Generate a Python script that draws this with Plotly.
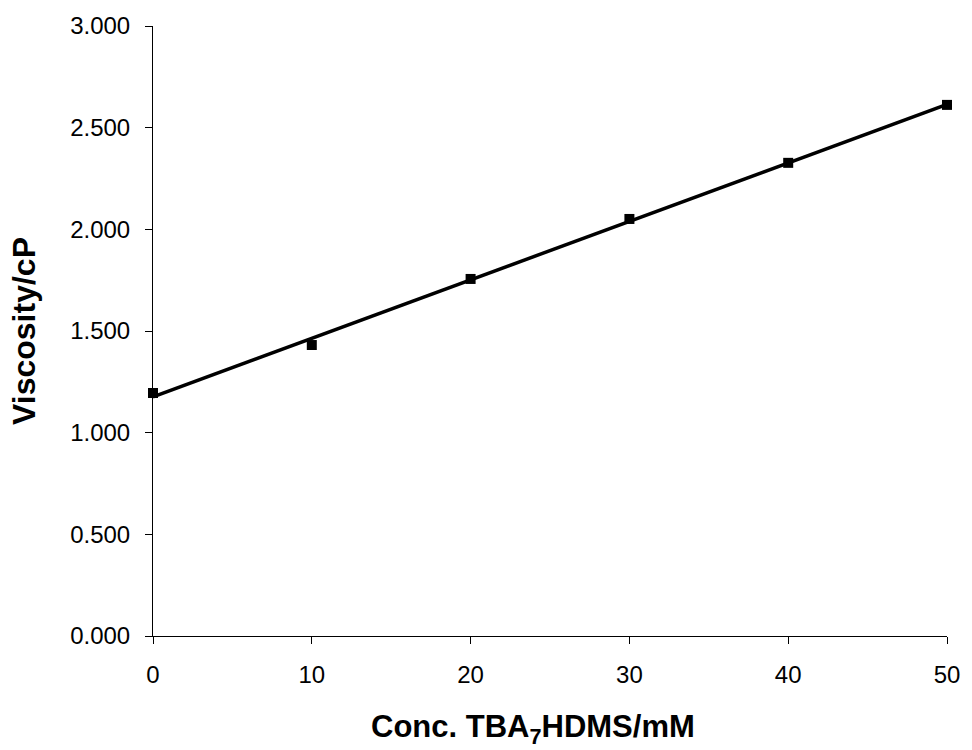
import numpy as np
import plotly.graph_objects as go

conc = [0, 10, 20, 30, 40, 50]
viscosity = [1.195, 1.431, 1.756, 2.051, 2.327, 2.612]
x_ticks = [0, 10, 20, 30, 40, 50]
y_ticks = [0.0, 0.5, 1.0, 1.5, 2.0, 2.5, 3.0]
y_tick_labels = ["0.000", "0.500", "1.000", "1.500", "2.000", "2.500", "3.000"]
x_title = "<b>Conc. TBA<sub>7</sub>HDMS/mM</b>"
y_title = "<b>Viscosity/cP</b>"

slope, intercept = np.polyfit(conc, viscosity, 1)
fit_x = [conc[0], conc[-1]]
fit_y = [intercept + slope * v for v in fit_x]

fig = go.Figure()
fig.add_trace(go.Scatter(x=fit_x, y=fit_y, mode="lines",
                         line=dict(color="black", width=3.5), showlegend=False, cliponaxis=False))
fig.add_trace(go.Scatter(x=conc, y=viscosity, mode="markers",
                         marker=dict(symbol="square", size=10, color="black"),
                         showlegend=False, cliponaxis=False))

font = "Liberation Sans, Arial, sans-serif"
fig.update_layout(
    width=972, height=750,
    margin=dict(l=153, r=20, t=26, b=114),
    plot_bgcolor="white", paper_bgcolor="white",
    font=dict(family=font, color="black", size=24),
    xaxis=dict(range=[0, 50], tickvals=x_ticks, ticks="outside", ticklen=7,
               tickcolor="black", showline=True, linecolor="black", linewidth=1,
               showgrid=False, zeroline=False, tickfont=dict(size=24),
               ticklabelstandoff=10),
    yaxis=dict(range=[0, 3], tickvals=y_ticks, ticktext=y_tick_labels, ticks="outside", ticklen=7,
               tickcolor="black", showline=True, linecolor="black", linewidth=1,
               showgrid=False, zeroline=False, tickfont=dict(size=24),
               ticklabelstandoff=10,
               title=dict(text=y_title, font=dict(size=32), standoff=24)),
    annotations=[dict(text=x_title, xref="paper", yref="paper", x=0.479, y=-0.152,
                      xanchor="center", yanchor="middle", showarrow=False,
                      font=dict(size=31))],
)
fig.write_html("out.html")
